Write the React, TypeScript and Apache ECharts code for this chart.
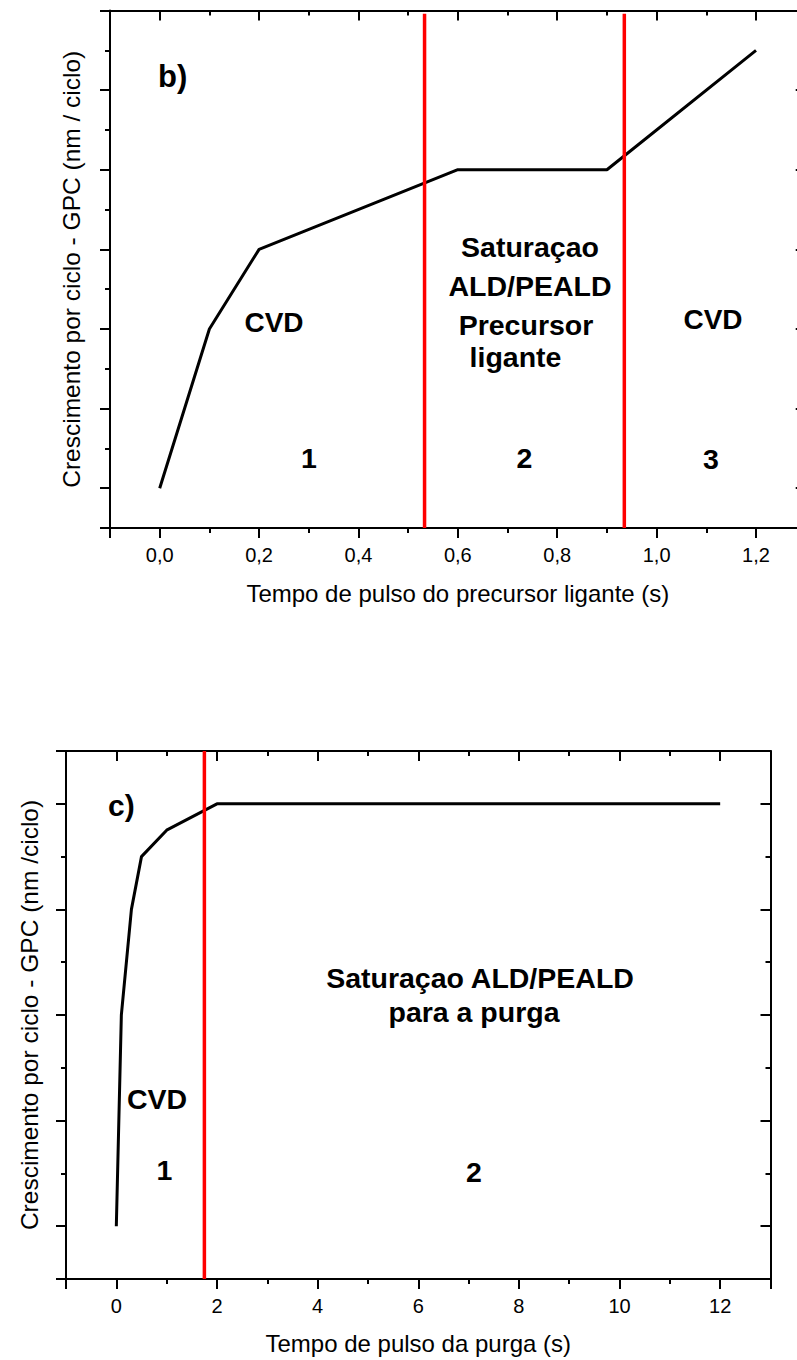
import React, { useEffect, useRef } from 'react';
import * as echarts from 'echarts';

// Panel b) - ligand precursor pulse time
const ligandTime = [0, 0.1, 0.2, 0.6, 0.9, 1.2];
const ligandGpc = [0, 2, 3, 4, 4, 5.5];
const ligandBoundaries = [0.533, 0.935];
const ligandXRange = [-0.1, 1.3];
const ligandYRange = [-0.5, 6];
const ligandRedTop = 5.96;
const ligandTickValues = [0, 0.2, 0.4, 0.6, 0.8, 1.0, 1.2];
const ligandTickLabels = ['0,0', '0,2', '0,4', '0,6', '0,8', '1,0', '1,2'];

// Panel c) - purge pulse time
const purgeTime = [0, 0.1, 0.3, 0.5, 1, 2, 12];
const purgeGpc = [0, 2, 3, 3.5, 3.75, 4, 4];
const purgeBoundaries = [1.75];
const purgeXRange = [-1, 13];
const purgeYRange = [-0.5, 4.5];
const purgeTickValues = [0, 2, 4, 6, 8, 10, 12];
const purgeTickLabels = ['0', '2', '4', '6', '8', '10', '12'];

const FONT = '"Liberation Sans", Arial, sans-serif';

function labelFor(values: number[], labels: string[]) {
  return (v: number) => {
    const i = values.findIndex((t) => Math.abs(t - v) < 1e-6);
    return i >= 0 ? labels[i] : '';
  };
}

function xAxisDef(gridIndex: number, range: number[], position: 'top' | 'bottom', split: number, fmt?: (v: number) => string, name?: string, nameGap?: number) {
  const main = position === 'bottom';
  return {
    type: 'value',
    gridIndex,
    position,
    offset: 0,
    min: range[0],
    max: range[1],
    splitNumber: split,
    axisLine: { show: true, onZero: false, lineStyle: { color: '#000', width: 2 } },
    axisTick: { show: true, inside: !main, length: 10, lineStyle: { color: '#000', width: 2 } },
    minorTick: { show: true, splitNumber: 2, length: 5, lineStyle: { color: '#000', width: 2 } },
    splitLine: { show: false },
    minorSplitLine: { show: false },
    axisLabel: main
      ? { show: true, formatter: fmt, margin: 17, color: '#000', fontSize: 20, fontFamily: FONT, showMinLabel: false, showMaxLabel: false }
      : { show: false },
    name: main ? name : undefined,
    nameLocation: 'middle',
    nameGap,
    nameTextStyle: { color: '#000', fontSize: 24, fontFamily: FONT },
  };
}

function yAxisDef(gridIndex: number, range: number[], position: 'left' | 'right', name?: string, nameGap?: number) {
  const main = position === 'left';
  return {
    type: 'value',
    gridIndex,
    position,
    offset: 0,
    min: range[0],
    max: range[1],
    splitNumber: 6,
    axisLine: { show: true, onZero: false, lineStyle: { color: '#000', width: 2 } },
    axisTick: { show: true, inside: !main, length: 10, lineStyle: { color: '#000', width: 2 } },
    minorTick: { show: true, splitNumber: 2, length: 5, lineStyle: { color: '#000', width: 2 } },
    splitLine: { show: false },
    minorSplitLine: { show: false },
    axisLabel: { show: false },
    name: main ? name : undefined,
    nameLocation: 'middle',
    nameGap,
    nameTextStyle: { color: '#000', fontSize: 24.5, fontFamily: FONT },
  };
}

function txt(text: string, x: number, y: number, size = 28.5, align = 'center') {
  return {
    type: 'text',
    x,
    y,
    z: 100,
    style: {
      text,
      fill: '#000',
      fontSize: size,
      fontWeight: 'bold',
      fontFamily: FONT,
      align,
      verticalAlign: 'middle',
      textAlign: align,
      textVerticalAlign: 'middle',
    },
  };
}

export default function App() {
  const ref = useRef<HTMLDivElement>(null);

  useEffect(() => {
    if (!ref.current) return;
    const chart = echarts.init(ref.current, undefined, { renderer: 'svg' });

    const series: any[] = [
      {
        type: 'line',
        xAxisIndex: 0,
        yAxisIndex: 0,
        data: ligandTime.map((t, i) => [t, ligandGpc[i]]),
        showSymbol: false,
        symbol: 'none',
        lineStyle: { color: '#000', width: 3 },
        z: 5,
      },
      ...ligandBoundaries.map((b) => ({
        type: 'line',
        xAxisIndex: 0,
        yAxisIndex: 0,
        data: [[b, ligandYRange[0]], [b, ligandRedTop]],
        showSymbol: false,
        symbol: 'none',
        lineStyle: { color: '#ff0000', width: 3.5 },
        z: 6,
      })),
      {
        type: 'line',
        xAxisIndex: 2,
        yAxisIndex: 2,
        data: purgeTime.map((t, i) => [t, purgeGpc[i]]),
        showSymbol: false,
        symbol: 'none',
        lineStyle: { color: '#000', width: 3 },
        z: 5,
      },
      ...purgeBoundaries.map((b) => ({
        type: 'line',
        xAxisIndex: 2,
        yAxisIndex: 2,
        data: [[b, purgeYRange[0]], [b, purgeYRange[1]]],
        showSymbol: false,
        symbol: 'none',
        lineStyle: { color: '#ff0000', width: 3.5 },
        z: 6,
      })),
    ];

    chart.setOption({
      animation: false,
      backgroundColor: '#fff',
      grid: [
        { left: 110, top: 10.5, width: 695.7, height: 517.5, containLabel: false },
        { left: 66, top: 751, width: 704.5, height: 528, containLabel: false },
      ],
      xAxis: [
        xAxisDef(0, ligandXRange, 'bottom', 7, labelFor(ligandTickValues, ligandTickLabels), 'Tempo de pulso do precursor ligante (s)', 53),
        xAxisDef(0, ligandXRange, 'top', 7),
        xAxisDef(1, purgeXRange, 'bottom', 7, labelFor(purgeTickValues, purgeTickLabels), 'Tempo de pulso da purga (s)', 52),
        xAxisDef(1, purgeXRange, 'top', 7),
      ],
      yAxis: [
        yAxisDef(0, ligandYRange, 'left', 'Crescimento por ciclo - GPC (nm / ciclo)', 26),
        yAxisDef(0, ligandYRange, 'right'),
        yAxisDef(1, purgeYRange, 'left', 'Crescimento por ciclo - GPC (nm /ciclo)', 24),
        yAxisDef(1, purgeYRange, 'right'),
      ],
      series,
      graphic: [
        txt('b)', 158, 76, 31, 'left'),
        txt('CVD', 274, 322.5, 28),
        txt('Saturaçao', 530, 246.5),
        txt('ALD/PEALD', 530, 285.5),
        txt('Precursor', 526, 324.5),
        txt('ligante', 515.5, 357),
        txt('CVD', 713, 319, 28),
        txt('1', 309, 457.5),
        txt('2', 524.5, 457.5),
        txt('3', 711, 459),
        txt('c)', 108, 805, 30, 'left'),
        txt('Saturaçao ALD/PEALD', 480, 978),
        txt('para a purga', 474, 1012),
        txt('CVD', 157, 1099),
        txt('1', 164.5, 1170),
        txt('2', 474, 1171.5),
      ],
    });

    return () => chart.dispose();
  }, []);

  return (
    <div style={{ position: 'absolute', left: 0, top: 0, width: 797, height: 1360, overflow: 'hidden', background: '#fff' }}>
      <div ref={ref} style={{ width: 820, height: 1360 }} />
    </div>
  );
}
